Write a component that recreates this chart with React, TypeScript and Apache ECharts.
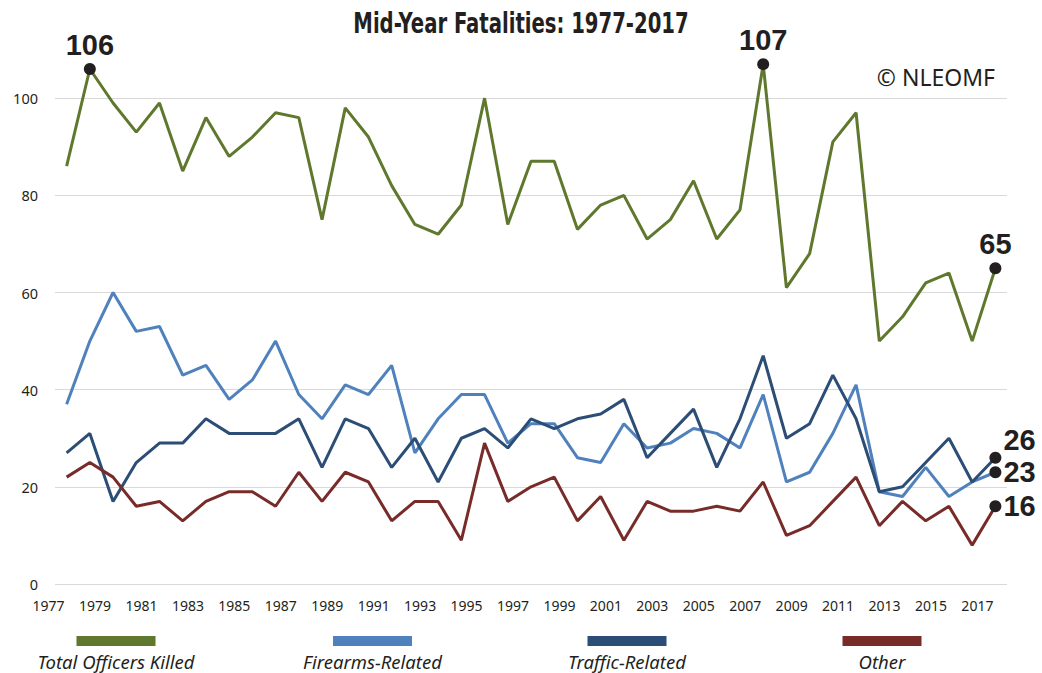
import React, { useEffect, useRef } from "react";
import * as echarts from "echarts";

const years = [
  "1977", "1978", "1979", "1980", "1981", "1982", "1983", "1984", "1985", "1986",
  "1987", "1988", "1989", "1990", "1991", "1992", "1993", "1994", "1995", "1996",
  "1997", "1998", "1999", "2000", "2001", "2002", "2003", "2004", "2005", "2006",
  "2007", "2008", "2009", "2010", "2011", "2012", "2013", "2014", "2015", "2016",
  "2017",
];

const totalKilled = [
  86, 106, 99, 93, 99, 85, 96, 88, 92, 97, 96, 75, 98, 92, 82, 74, 72, 78, 100, 74,
  87, 87, 73, 78, 80, 71, 75, 83, 71, 77, 107, 61, 68, 91, 97, 50, 55, 62, 64, 50, 65,
];
const firearms = [
  37, 50, 60, 52, 53, 43, 45, 38, 42, 50, 39, 34, 41, 39, 45, 27, 34, 39, 39, 29,
  33, 33, 26, 25, 33, 28, 29, 32, 31, 28, 39, 21, 23, 31, 41, 19, 18, 24, 18, 21, 23,
];
const traffic = [
  27, 31, 17, 25, 29, 29, 34, 31, 31, 31, 34, 24, 34, 32, 24, 30, 21, 30, 32, 28,
  34, 32, 34, 35, 38, 26, 31, 36, 24, 34, 47, 30, 33, 43, 34, 19, 20, 25, 30, 21, 26,
];
const other = [
  22, 25, 22, 16, 17, 13, 17, 19, 19, 16, 23, 17, 23, 21, 13, 17, 17, 9, 29, 17,
  20, 22, 13, 18, 9, 17, 15, 15, 16, 15, 21, 10, 12, 17, 22, 12, 17, 13, 16, 8, 16,
];

const seriesNames = ["Total Officers Killed", "Firearms-Related", "Traffic-Related", "Other"];
const seriesColors = ["#5f782d", "#4f81bd", "#2c4d75", "#772c2a"];
const titleText = "Mid-Year Fatalities: 1977-2017";
const copyrightText = "© NLEOMF";

// highlighted points: [series index, data index, label side, vertical label offset]
const highlights: [number, number, string, number][] = [
  [0, 1, "top", 0],
  [0, 30, "top", 0],
  [0, 40, "top", 0],
  [2, 40, "right", -18],
  [1, 40, "right", 0],
  [3, 40, "right", 0],
];

const DARK = "#231f20";

function buildData(values: number[], sIdx: number) {
  return values.map((v, i) => {
    const h = highlights.find((x) => x[0] === sIdx && x[1] === i);
    if (!h) return v;
    return {
      value: v,
      symbol: "circle",
      symbolSize: 12,
      itemStyle: { color: DARK },
      label: {
        show: true,
        position: h[2],
        distance: h[2] === "top" ? 4 : 2,
        offset: [0, h[3]],
        formatter: "{c}",
        fontSize: 29,
        lineHeight: 29,
        fontWeight: "bold",
        fontFamily: "'Liberation Sans', Arial, sans-serif",
        color: DARK,
      },
    };
  });
}

export default function App() {
  const ref = useRef<HTMLDivElement>(null);
  useEffect(() => {
    if (!ref.current) return;
    const chart = echarts.init(ref.current, undefined, { renderer: "svg" });
    const allValues = [totalKilled, firearms, traffic, other];
    const legendCenters = [116, 372.5, 627, 882];
    const legendGraphics: any[] = [];
    seriesNames.forEach((name, i) => {
      legendGraphics.push({
        type: "rect",
        shape: { x: legendCenters[i] - 39.5, y: 636, width: 79, height: 10 },
        style: { fill: seriesColors[i] },
      });
      legendGraphics.push({
        type: "text",
        x: legendCenters[i],
        y: 661,
        style: {
          text: name,
          fill: DARK,
          fontSize: 18.5,
          lineHeight: 19,
          fontStyle: "italic",
          fontFamily: "'Noto Sans', sans-serif",
          align: "center",
          verticalAlign: "middle",
        },
      });
    });
    chart.setOption({
      animation: false,
      grid: [
        { left: 55, right: 35, top: 1, bottom: 89 },
        { left: 37, right: 53, top: 1, bottom: 89 },
      ],
      xAxis: [
        {
          type: "category",
          gridIndex: 0,
          data: years,
          boundaryGap: true,
          axisLine: { show: false },
          axisTick: { show: false },
          axisLabel: { show: false },
          splitLine: { show: false },
        },
        {
          type: "category",
          gridIndex: 1,
          data: years,
          boundaryGap: true,
          axisLine: { show: false },
          axisTick: { show: false },
          axisLabel: {
            interval: 1,
            margin: 14,
            fontSize: 14,
            color: DARK,
            fontFamily: "'Noto Sans', sans-serif",
          },
          splitLine: { show: false },
        },
      ],
      yAxis: [
        {
          type: "value",
          gridIndex: 0,
          min: 0,
          max: 120,
          interval: 20,
          axisLine: { show: false },
          axisTick: { show: false },
          axisLabel: {
            margin: 17,
            fontSize: 14.5,
            color: DARK,
            fontFamily: "'Noto Sans', sans-serif",
            showMaxLabel: false,
          },
          splitLine: { show: true, showMaxLine: false, lineStyle: { color: "#d9d9d9", width: 1 } },
        },
        {
          type: "value",
          gridIndex: 1,
          min: 0,
          max: 120,
          show: false,
          splitLine: { show: false },
        },
      ],
      series: allValues.map((vals, i) => ({
        name: seriesNames[i],
        type: "line",
        xAxisIndex: 0,
        yAxisIndex: 0,
        data: buildData(vals, i),
        symbol: "none",
        showSymbol: true,
        showAllSymbol: true,
        color: seriesColors[i],
        lineStyle: { color: seriesColors[i], width: 3 },
        z: 2 + i,
      })),
      graphic: [
        {
          type: "text",
          x: 521,
          y: 24,
          scaleX: 0.78,
          style: {
            text: titleText,
            fill: DARK,
            fontSize: 28,
            fontWeight: "bold",
            fontFamily: "'Liberation Sans Narrow', 'DejaVu Sans Condensed', sans-serif",
            align: "center",
            verticalAlign: "middle",
          },
        },
        {
          type: "text",
          x: 995,
          y: 77,
          style: {
            text: copyrightText,
            fill: DARK,
            fontSize: 23,
            fontFamily: "'Noto Sans', sans-serif",
            align: "right",
            verticalAlign: "middle",
          },
        },
        ...legendGraphics,
      ],
    });
    return () => chart.dispose();
  }, []);
  return (
    <div
      ref={ref}
      style={{ position: "absolute", left: 0, top: 0, width: 1042, height: 673, background: "#fff" }}
    />
  );
}
